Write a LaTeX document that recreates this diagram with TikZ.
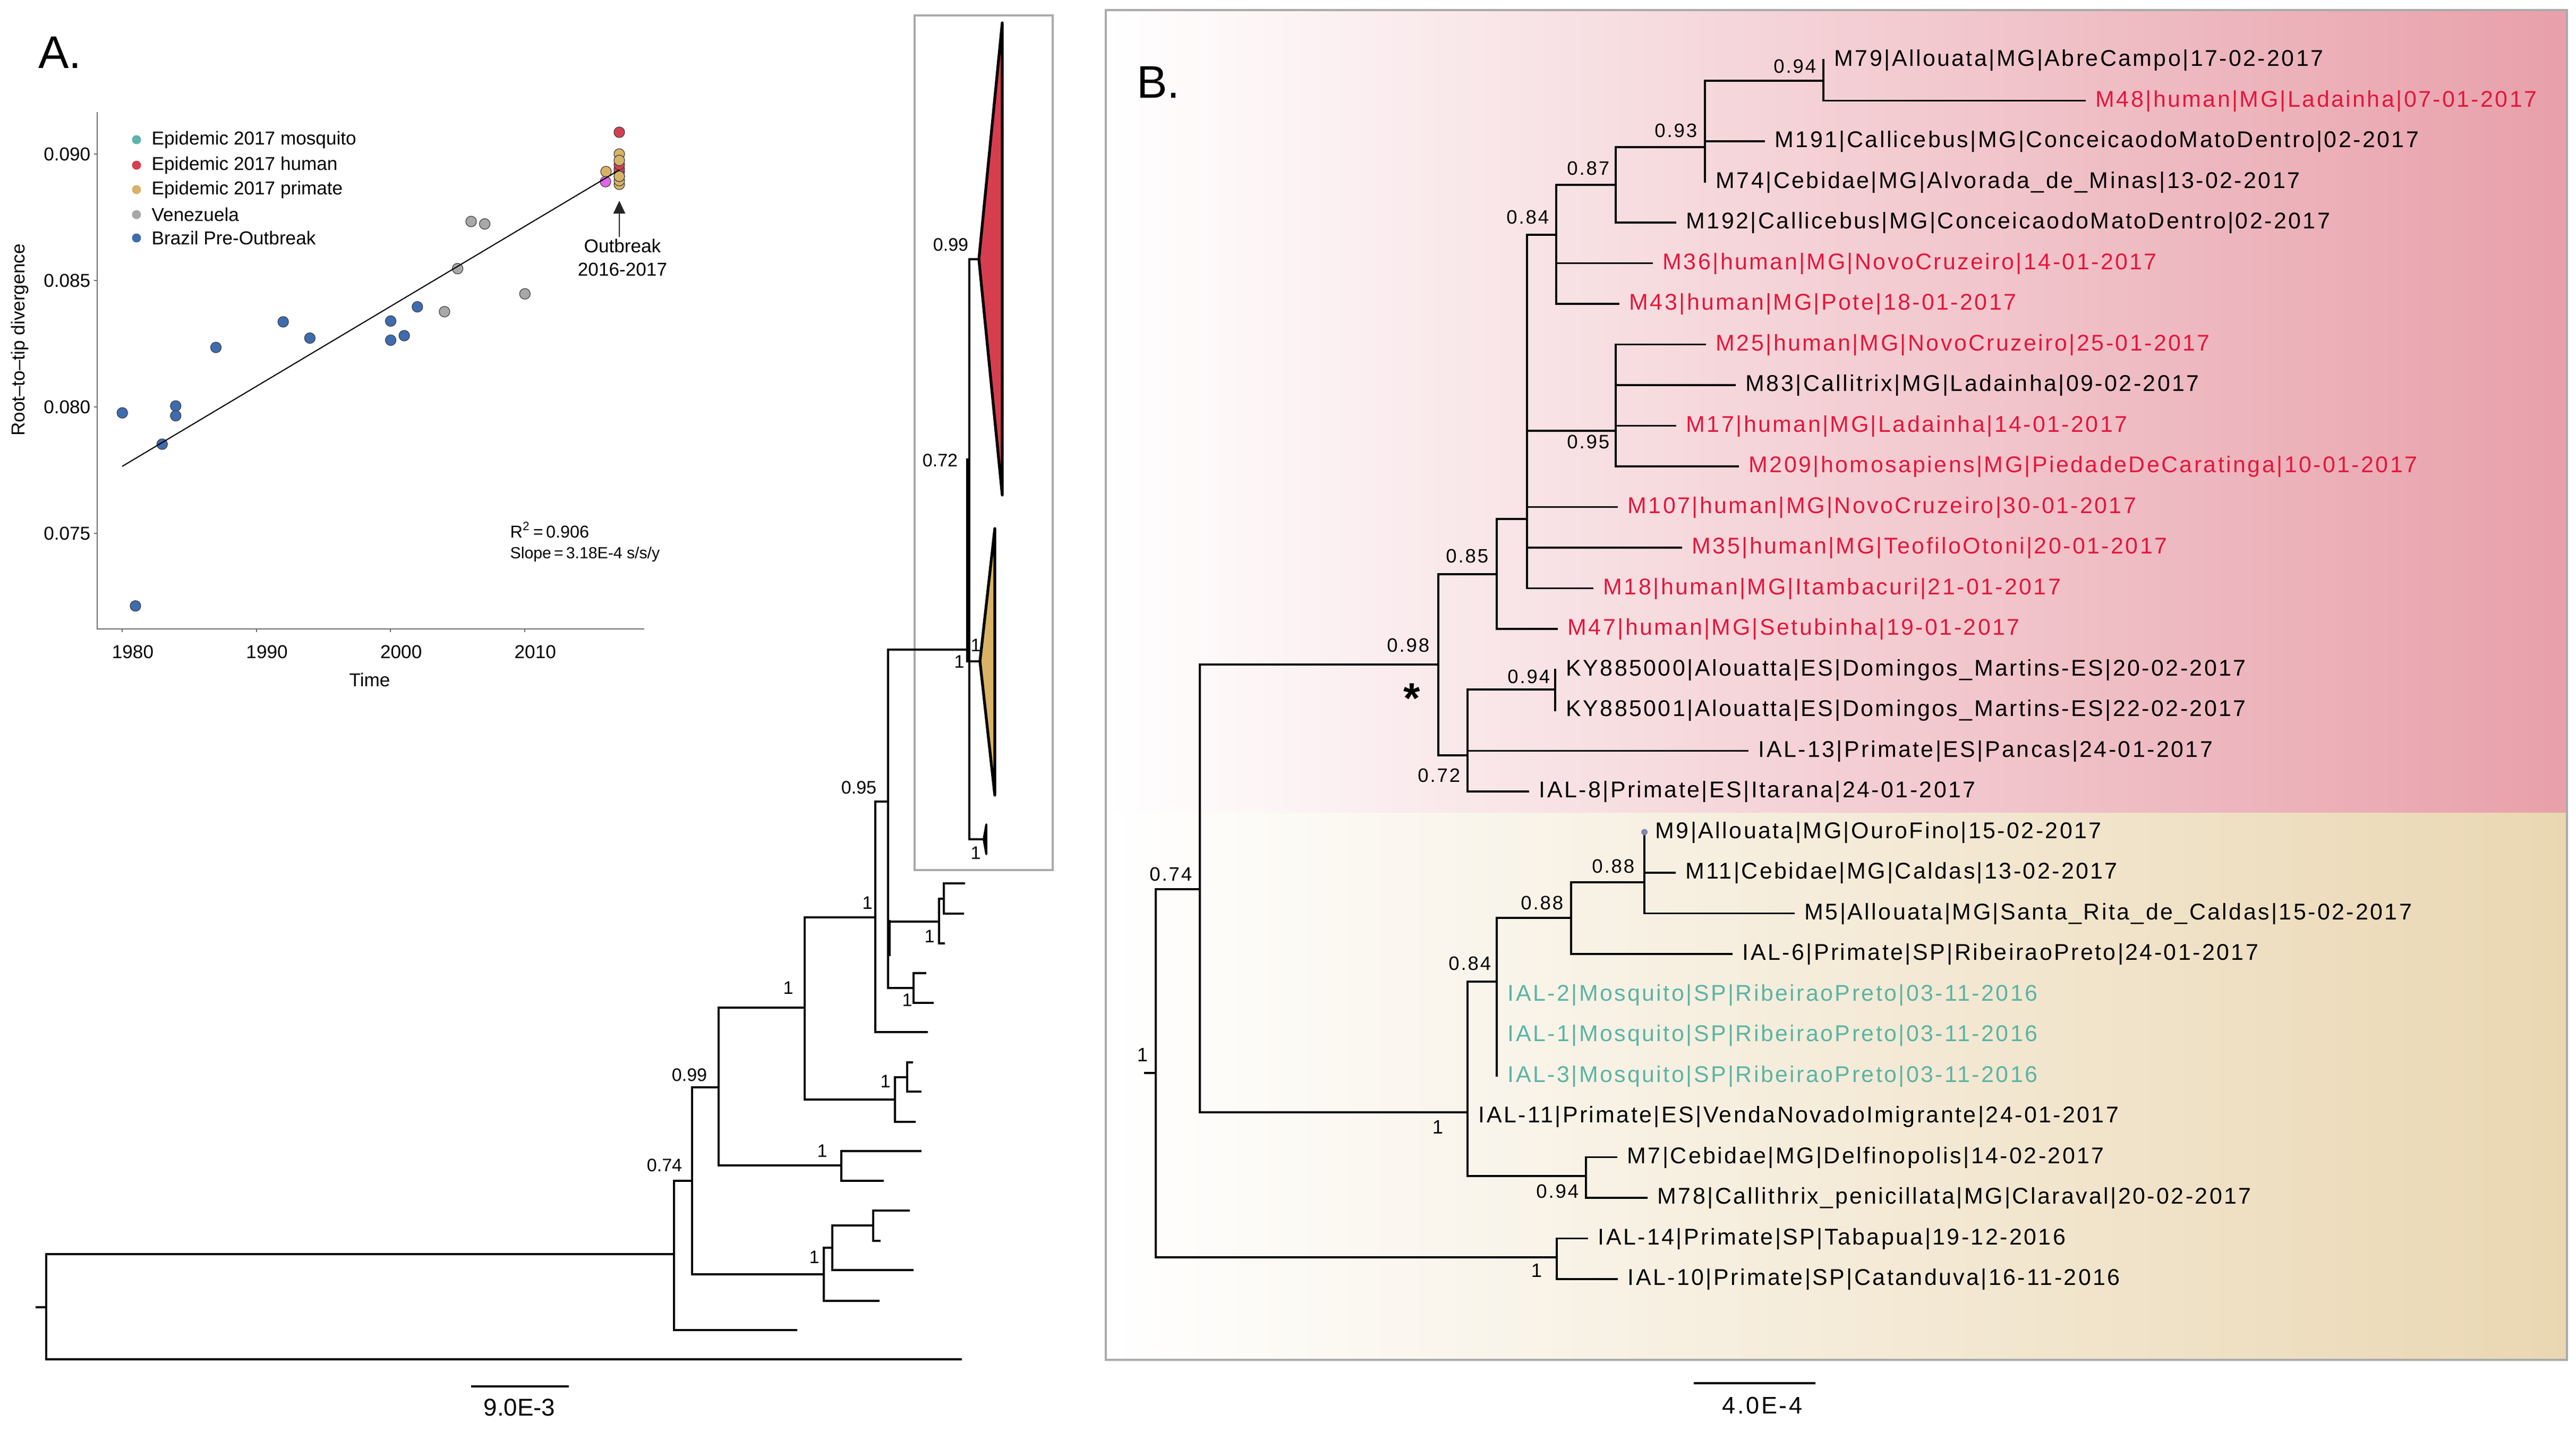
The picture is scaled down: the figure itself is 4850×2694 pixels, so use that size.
\documentclass[tikz,border=0pt]{standalone}
\usepackage{fontspec}
\setmainfont{Liberation Sans}
\newfontfamily\bfnt[LetterSpace=8]{Liberation Sans}
\usetikzlibrary{arrows.meta}
\definecolor{tred}{RGB}{228,22,60}
\definecolor{tteal}{RGB}{90,180,165}
\definecolor{pinkR}{RGB}{232,160,170}
\definecolor{tanR}{RGB}{234,215,178}
\definecolor{boxgray}{RGB}{170,170,170}
\definecolor{cRed}{RGB}{214,62,79}
\definecolor{cTan}{RGB}{216,178,102}
\definecolor{cGray}{RGB}{168,168,168}
\definecolor{cBlue}{RGB}{62,108,176}
\definecolor{cTeal}{RGB}{91,181,168}
\definecolor{cMag}{RGB}{228,100,236}
\definecolor{axgray}{RGB}{110,110,110}
\definecolor{mdot}{RGB}{128,136,170}
\begin{document}
\begin{tikzpicture}[x=0.01cm, y=-0.01cm,
  br/.style={line width=1.1pt, line cap=rect},
  tax/.style={anchor=base west, xshift=0.2cm, yshift=-0.115cm, inner sep=0, font=\bfnt\fontsize{12.2}{14}\selectfont},
  txr/.style={tax, text=tred},
  txt/.style={tax, text=tteal},
  supb/.style={anchor=east, inner sep=0, font=\bfnt\fontsize{10.4}{12}\selectfont},
  supc/.style={anchor=center, inner sep=0, font=\bfnt\fontsize{10.4}{12}\selectfont},
  supl/.style={anchor=center, inner sep=0, font=\fontsize{9.7}{11}\selectfont},
  ins/.style={inner sep=0, font=\fontsize{10}{12}\selectfont},
  pt/.style={draw=black!75, line width=0.35pt},
  lg/.style={inner sep=0, anchor=west, font=\fontsize{10}{12}\selectfont}]
\useasboundingbox (0,0) rectangle (4850,2694);
\fill[white] (0,0) rectangle (4850,2694);

% ---------------- Panel B background ----------------
\shade[left color=white, right color=pinkR] (2082,19) rectangle (4833,1530);
\shade[left color=white, right color=tanR] (2082,1530) rectangle (4833,2560);
\draw[boxgray, line width=0.9pt] (2082,19) rectangle (4833,2560);
% left box
\draw[boxgray, line width=0.9pt] (1722,29) rectangle (1982,1638);

% panel letters
\node[inner sep=0, font=\fontsize{24.5}{28}\selectfont] (labA) at (113,99) {A.};
\node[inner sep=0, font=\fontsize{24.5}{28}\selectfont] (labB) at (2181,155) {B.};

% ---------------- Inset scatter plot ----------------
\draw[axgray, line width=0.6pt] (183,211) -- (183,1184) -- (1213,1184);
\foreach \yy/\lab [count=\i] in {290/0.090,528/0.085,766/0.080,1004/0.075}{
  \draw[axgray, line width=0.6pt] (177,\yy) -- (183,\yy);
  \node[ins, anchor=east] (yt\i) at (171,\yy) {\lab};
}
\foreach \xx/\lab [count=\i] in {230/1980,482.6/1990,735.2/2000,987.8/2010}{
  \draw[axgray, line width=0.6pt] (\xx,1184) -- (\xx,1190);
  \node[ins] (xt\i) at (\xx+20,1227) {\lab};
}
\node[ins] (xlab) at (696,1280) {Time};
\node[ins, rotate=90] (ylab) at (37,640) {Root–to–tip divergence};

% legend
\fill[cTeal] (257,263) circle (8.5);
\fill[cRed] (257,311) circle (8.5);
\fill[cTan] (257,357) circle (8.5);
\fill[cGray] (257,404) circle (8.5);
\fill[cBlue] (257,448) circle (8.5);
\node[lg] (lg1) at (285,263) {Epidemic 2017 mosquito};
\node[lg] (lg2) at (285,311) {Epidemic 2017 human};
\node[lg] (lg3) at (285,357) {Epidemic 2017 primate};
\node[lg] (lg4) at (285,404) {Venezuela};
\node[lg] (lg5) at (285,448) {Brazil Pre-Outbreak};

% data points
\foreach \px/\py in {230.3/777.3,255/1140.7,305.3/836.2,330.8/764.3,330.8/782.7,406.5/654.1,533.2/605.9,583.4/636.5,735.6/604.4,735.6/640.4,761.1/631.9,785.8/577.6}
  \filldraw[pt, fill=cBlue] (\px,\py) circle (10);
\foreach \px/\py in {836.9/586.8,861.6/505.7,887/417,912.6/421.6,988.3/553.2}
  \filldraw[pt, fill=cGray] (\px,\py) circle (10);
\filldraw[pt, fill=cRed] (1166,249) circle (10);
\filldraw[pt, fill=cTan] (1141,323) circle (10);
\filldraw[pt, fill=cMag] (1140,342) circle (10);
\foreach \py in {347,340,332}
  \filldraw[pt, fill=cTan] (1166,\py) circle (10);
\foreach \py in {323,318,310}
  \filldraw[pt, fill=cRed] (1166,\py) circle (10);
\foreach \py in {290,302}
  \filldraw[pt, fill=cTan] (1166,\py) circle (10);
\filldraw[pt, fill=cTan] (1166,332) circle (10);
% regression line
\draw[line width=0.6pt] (230,878) -- (1166,320);
% arrow
\draw[-{Triangle[length=0.24cm,width=0.22cm]}, line width=0.8pt, black!85] (1166,446) -- (1166,378);
\node[ins] (ob1) at (1172,463) {Outbreak};
\node[ins] (ob2) at (1172,507) {2016-2017};
\node[inner sep=0, anchor=base west, font=\fontsize{9.2}{11}\selectfont] (r2) at (960,1012) {R$^{\mathrm{2}}$\,=\,0.906};
\node[inner sep=0, anchor=base west, font=\fontsize{8.6}{11}\selectfont] (slope) at (960,1051) {Slope\,=\,3.18E-4 s/s/y};

% ---------------- Left tree (A) ----------------
\coordinate (aRs) at (69,2461);
\coordinate (aR) at (87,2461);
\coordinate (aA) at (1269,2361);
\coordinate (aLa) at (1809,2559);
\coordinate (aB) at (1303,2223);
\coordinate (aLb) at (1499,2504);
\coordinate (aC) at (1353,2047);
\coordinate (aD) at (1551,2399);
\coordinate (aG) at (1515,1897);
\coordinate (aH) at (1584,2194);
\coordinate (aI) at (1648,1727);
\coordinate (aJ) at (1685,2070);
\coordinate (aL) at (1672,1509);
\coordinate (aLi) at (1745,1943);
\coordinate (aP) at (1825,1223);
\coordinate (aM) at (1768,1735);
\coordinate (aN) at (1720,1860);
\coordinate (aLz1) at (1674,1735);
\coordinate (aLz2) at (1674,1797);
\coordinate (aM2) at (1777,1692);
\coordinate (aLm) at (1777,1776);
\coordinate (aLm1) at (1815,1663);
\coordinate (aLm2) at (1813,1720);
\coordinate (aLn1) at (1742,1832);
\coordinate (aLn2) at (1756,1888);
\coordinate (aK) at (1708,2028);
\coordinate (aLj) at (1722,2112);
\coordinate (aLk1) at (1717,2000);
\coordinate (aLk2) at (1733,2055);
\coordinate (aLh1) at (1733,2167);
\coordinate (aLh2) at (1662,2223);
\coordinate (aE) at (1567,2349);
\coordinate (aLd) at (1654,2449);
\coordinate (aF) at (1644,2307);
\coordinate (aLe) at (1718,2391);
\coordinate (aLf1) at (1711,2279);
\coordinate (aLf2) at (1656,2336);
\coordinate (aRed) at (1843,488);
\coordinate (aRedT) at (1887,43);
\coordinate (aRedB) at (1887,932);
\coordinate (aTan) at (1845,1245);
\coordinate (aTanT) at (1873,995);
\coordinate (aTanB) at (1873,1497);
\coordinate (aBot) at (1852,1580);
\coordinate (aBotT) at (1857,1552);
\coordinate (aBotB) at (1857,1608);
\coordinate (aPt1) at (1822,867);
\coordinate (aPt2) at (1822,1243);

\draw[br] (aRs) -- (aR) (aR) |- (aA) (aR) |- (aLa);
\draw[br] (aA) |- (aB) (aA) |- (aLb);
\draw[br] (aB) |- (aC) (aB) |- (aD);
\draw[br] (aC) |- (aG) (aC) |- (aH);
\draw[br] (aG) |- (aI) (aG) |- (aJ);
\draw[br] (aI) |- (aL) (aI) |- (aLi);
\draw[br] (aL) |- (aP) (aL) |- (aM) (aL) |- (aN);
\draw[br, line width=1.8pt] (aLz1) -- (aLz2);
\draw[br] (aM) |- (aM2) (aM) |- (aLm);
\draw[br] (aM2) |- (aLm1) (aM2) |- (aLm2);
\draw[br] (aN) |- (aLn1) (aN) |- (aLn2);
\draw[br] (aJ) |- (aK) (aJ) |- (aLj);
\draw[br] (aK) |- (aLk1) (aK) |- (aLk2);
\draw[br] (aH) |- (aLh1) (aH) |- (aLh2);
\draw[br] (aD) |- (aE) (aD) |- (aLd);
\draw[br] (aE) |- (aF) (aE) |- (aLe);
\draw[br] (aF) |- (aLf1) (aF) |- (aLf2);
\draw[br] (aP) |- (aRed) (aP) |- (aTan) (aP) |- (aBot);
\draw[br, line width=2pt] (aPt1) -- (aPt2);
\filldraw[fill=cRed, draw=black, line width=1.5pt, line join=round] (aRed) -- (aRedT) -- (aRedB) -- cycle;
\filldraw[fill=cTan, draw=black, line width=1.5pt, line join=round] (aTan) -- (aTanT) -- (aTanB) -- cycle;
\filldraw[draw=black, line width=1.1pt, line join=round] (aBot) -- (aBotT) -- (aBotB) -- cycle;

\node[supl] (sa1) at (1617,1483) {0.95};
\node[supl] (sa2) at (1633,1700) {1};
\node[supl] (sa3) at (1484,1860) {1};
\node[supl] (sa4) at (1750,1763) {1};
\node[supl] (sa5) at (1708,1883) {1};
\node[supl] (sa6) at (1667,2036) {1};
\node[supl] (sa7) at (1548,2167) {1};
\node[supl] (sa8) at (1533,2367) {1};
\node[supl] (sa9) at (1298,2024) {0.99};
\node[supl] (sa10) at (1251,2194) {0.74};
\node[supl] (sa11) at (1806,1246) {1};
\node[supl] (sa12) at (1837,1215) {1};
\node[supl] (sa13) at (1837,1606) {1};
\node[supl] (sa14) at (1790,461) {0.99};
\node[supl] (sa15) at (1770,867) {0.72};

% scale bar A
\coordinate (sbA1) at (887,2610);
\coordinate (sbA2) at (1071,2610);
\draw[line width=1.1pt] (sbA1) -- (sbA2);
\node[inner sep=0, font=\fontsize{13}{15}\selectfont] (sbAt) at (978,2650) {9.0E-3};

% ---------------- Right tree (B) ----------------
\coordinate (bRs) at (2156,2020);
\coordinate (bR) at (2176,2020);
\coordinate (b074) at (2259,1674);
\coordinate (bI) at (2931,2367);
\coordinate (b098) at (2708,1251);
\coordinate (b1) at (2763,2094);
\coordinate (b085) at (2818,1081);
\coordinate (b072) at (2763,1422);
\coordinate (bP) at (2875,977);
\coordinate (b084) at (2930,442);
\coordinate (b087) at (3042,348);
\coordinate (b093) at (3210,277);
\coordinate (b094) at (3433,152);
\coordinate (b095) at (3042,811);
\coordinate (b094k) at (2928,1298);
\coordinate (b084s) at (2818,1848);
\coordinate (b088a) at (2958,1728);
\coordinate (b088b) at (3096,1661);
\coordinate (b094m) at (2986,2214);

\coordinate (lM79) at (3433,113);
\coordinate (lM48) at (3925,189.5);
\coordinate (lM191) at (3321,266);
\coordinate (lM74) at (3210,342.5);
\coordinate (lM192) at (3154,419);
\coordinate (lM36) at (3110,495.5);
\coordinate (lM43) at (3047,572);
\coordinate (lM25) at (3210,648.5);
\coordinate (lM83) at (3266,725);
\coordinate (lM17) at (3154,801.5);
\coordinate (lM209) at (3272,878);
\coordinate (lM107) at (3044,954.5);
\coordinate (lM35) at (3165,1031);
\coordinate (lM18) at (2998,1107.5);
\coordinate (lM47) at (2931,1184);
\coordinate (lKY0) at (2928,1260.5);
\coordinate (lKY1) at (2928,1337);
\coordinate (lI13) at (3290,1413.5);
\coordinate (lI8) at (2877,1490);
\coordinate (lM9) at (3096,1566.5);
\coordinate (lM11) at (3153,1643);
\coordinate (lM5) at (3377,1719.5);
\coordinate (lI6) at (3260,1796);
\coordinate (lI2) at (2818,1872.5);
\coordinate (lI1) at (2818,1949);
\coordinate (lI3) at (2818,2025.5);
\coordinate (lI11) at (2763,2102);
\coordinate (lM7) at (3043,2178.5);
\coordinate (lM78) at (3100,2255);
\coordinate (lI14) at (2988,2331.5);
\coordinate (lI10) at (3044,2408);

\draw[br] (bRs) -- (bR) (bR) |- (b074) (bR) |- (bI);
\draw[br] (b074) |- (b098) (b074) |- (b1);
\draw[br] (b098) |- (b085) (b098) |- (b072);
\draw[br] (b085) |- (bP) (b085) |- (lM47);
\draw[br] (bP) |- (b084) (bP) |- (b095) (bP) |- (lM107) (bP) |- (lM35) (bP) |- (lM18);
\draw[br] (b084) |- (b087) (b084) |- (lM36) (b084) |- (lM43);
\draw[br] (b087) |- (b093) (b087) |- (lM192);
\draw[br] (b093) |- (b094) (b093) |- (lM191) (b093) |- (lM74);
\draw[br] (b094) |- (lM79) (b094) |- (lM48);
\draw[br] (b095) |- (lM25) (b095) |- (lM83) (b095) |- (lM17) (b095) |- (lM209);
\draw[br] (b072) |- (b094k) (b072) |- (lI13) (b072) |- (lI8);
\draw[br] (b094k) |- (lKY0) (b094k) |- (lKY1);
\draw[br] (b1) |- (b084s) (b1) |- (lI11) (b1) |- (b094m);
\draw[br] (b084s) |- (b088a) (b084s) |- (lI2) (b084s) |- (lI1) (b084s) |- (lI3);
\draw[br] (b088a) |- (b088b) (b088a) |- (lI6);
\draw[br] (b088b) |- (lM9) (b088b) |- (lM11) (b088b) |- (lM5);
\draw[br] (b094m) |- (lM7) (b094m) |- (lM78);
\draw[br] (bI) |- (lI14) (bI) |- (lI10);
\fill[mdot] (lM9) circle (6);

\node[tax] (tM79) at (lM79) {M79|Allouata|MG|AbreCampo|17-02-2017};
\node[txr] (tM48) at (lM48) {M48|human|MG|Ladainha|07-01-2017};
\node[tax] (tM191) at (lM191) {M191|Callicebus|MG|ConceicaodoMatoDentro|02-2017};
\node[tax] (tM74) at (lM74) {M74|Cebidae|MG|Alvorada\_de\_Minas|13-02-2017};
\node[tax] (tM192) at (lM192) {M192|Callicebus|MG|ConceicaodoMatoDentro|02-2017};
\node[txr] (tM36) at (lM36) {M36|human|MG|NovoCruzeiro|14-01-2017};
\node[txr] (tM43) at (lM43) {M43|human|MG|Pote|18-01-2017};
\node[txr] (tM25) at (lM25) {M25|human|MG|NovoCruzeiro|25-01-2017};
\node[tax] (tM83) at (lM83) {M83|Callitrix|MG|Ladainha|09-02-2017};
\node[txr] (tM17) at (lM17) {M17|human|MG|Ladainha|14-01-2017};
\node[txr] (tM209) at (lM209) {M209|homosapiens|MG|PiedadeDeCaratinga|10-01-2017};
\node[txr] (tM107) at (lM107) {M107|human|MG|NovoCruzeiro|30-01-2017};
\node[txr] (tM35) at (lM35) {M35|human|MG|TeofiloOtoni|20-01-2017};
\node[txr] (tM18) at (lM18) {M18|human|MG|Itambacuri|21-01-2017};
\node[txr] (tM47) at (lM47) {M47|human|MG|Setubinha|19-01-2017};
\node[tax] (tKY0) at (lKY0) {KY885000|Alouatta|ES|Domingos\_Martins-ES|20-02-2017};
\node[tax] (tKY1) at (lKY1) {KY885001|Alouatta|ES|Domingos\_Martins-ES|22-02-2017};
\node[tax] (tI13) at (lI13) {IAL-13|Primate|ES|Pancas|24-01-2017};
\node[tax] (tI8) at (lI8) {IAL-8|Primate|ES|Itarana|24-01-2017};
\node[tax] (tM9) at (lM9) {M9|Allouata|MG|OuroFino|15-02-2017};
\node[tax] (tM11) at (lM11) {M11|Cebidae|MG|Caldas|13-02-2017};
\node[tax] (tM5) at (lM5) {M5|Allouata|MG|Santa\_Rita\_de\_Caldas|15-02-2017};
\node[tax] (tI6) at (lI6) {IAL-6|Primate|SP|RibeiraoPreto|24-01-2017};
\node[txt] (tI2) at (lI2) {IAL-2|Mosquito|SP|RibeiraoPreto|03-11-2016};
\node[txt] (tI1) at (lI1) {IAL-1|Mosquito|SP|RibeiraoPreto|03-11-2016};
\node[txt] (tI3) at (lI3) {IAL-3|Mosquito|SP|RibeiraoPreto|03-11-2016};
\node[tax] (tI11) at (lI11) {IAL-11|Primate|ES|VendaNovadoImigrante|24-01-2017};
\node[tax] (tM7) at (lM7) {M7|Cebidae|MG|Delfinopolis|14-02-2017};
\node[tax] (tM78) at (lM78) {M78|Callithrix\_penicillata|MG|Claraval|20-02-2017};
\node[tax] (tI14) at (lI14) {IAL-14|Primate|SP|Tabapua|19-12-2016};
\node[tax] (tI10) at (lI10) {IAL-10|Primate|SP|Catanduva|16-11-2016};

\node[supb] (sb1) at (3420,125) {0.94};
\node[supb] (sb2) at (3196,246) {0.93};
\node[supb] (sb3) at (3031,317) {0.87};
\node[supb] (sb4) at (2917,409) {0.84};
\node[supb] (sb5) at (3031,832) {0.95};
\node[supb] (sb6) at (2803,1047) {0.85};
\node[supb] (sb7) at (2692,1215) {0.98};
\node[supb] (sb8) at (2919,1274) {0.94};
\node[supb] (sb9) at (2750,1460) {0.72};
\node[supb] (sb10) at (2245,1646) {0.74};
\node[supc] (sb11) at (2151,1986) {1};
\node[supb] (sb12) at (3078,1631) {0.88};
\node[supb] (sb13) at (2944,1700) {0.88};
\node[supb] (sb14) at (2808,1814) {0.84};
\node[supc] (sb15) at (2707,2122) {1};
\node[supb] (sb16) at (2973,2243) {0.94};
\node[supc] (sb17) at (2893,2392) {1};
\node[inner sep=0, anchor=base, font=\bfseries\fontsize{23}{26}\selectfont] (ast) at (2658,1342) {*};

% scale bar B
\coordinate (sbB1) at (3189,2604);
\coordinate (sbB2) at (3418,2604);
\draw[line width=1.1pt] (sbB1) -- (sbB2);
\node[inner sep=0, font=\bfnt\fontsize{12.8}{15}\selectfont] (sbBt) at (3318,2646) {4.0E-4};
\end{tikzpicture}
\end{document}
